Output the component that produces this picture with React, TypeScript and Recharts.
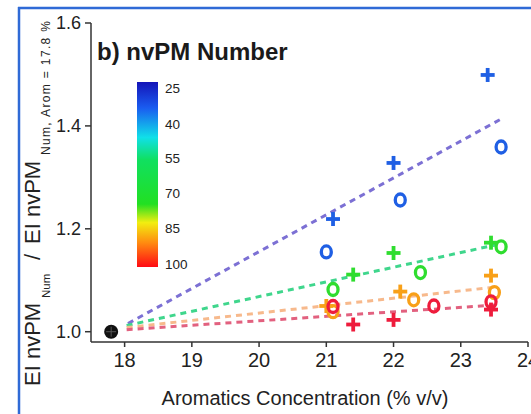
import React from 'react';
import { ComposedChart, Scatter, XAxis, YAxis } from 'recharts';

// ---- tick values ----
const xMajorTicks = [18, 19, 20, 21, 22, 23, 24];
const xMinorTicks = [17.6, 17.8, 18, 18.2, 18.4, 18.6, 18.8, 19, 19.2, 19.4, 19.6, 19.8, 20, 20.2, 20.4, 20.6, 20.8, 21, 21.2, 21.4, 21.6, 21.8, 22, 22.2, 22.4, 22.6, 22.8, 23, 23.2, 23.4, 23.6, 23.8];
const yMajorTicks = [1.0, 1.2, 1.4, 1.6];
const yMinorTicks = [1.0, 1.05, 1.1, 1.15, 1.2, 1.25, 1.3, 1.35, 1.4, 1.45, 1.5, 1.55];
const colorbarLabels = ['25', '40', '55', '70', '85', '100'];

// ---- data (Aromatics %, normalized EI) ----
const baseX = [17.8];
const baseY = [1.0];

const bluePlusX = [21.1, 22.0, 23.4];
const bluePlusY = [1.219, 1.328, 1.499];
const blueCircleX = [21.0, 22.1, 23.6];
const blueCircleY = [1.155, 1.256, 1.359];

const greenPlusX = [21.4, 22.0, 23.45];
const greenPlusY = [1.111, 1.153, 1.173];
const greenCircleX = [21.1, 22.4, 23.6];
const greenCircleY = [1.082, 1.115, 1.165];

const orangePlusX = [21.0, 22.1, 23.45];
const orangePlusY = [1.05, 1.078, 1.109];
const orangeCircleX = [21.1, 22.3, 23.5];
const orangeCircleY = [1.039, 1.062, 1.076];

const redPlusX = [21.4, 22.0, 23.45];
const redPlusY = [1.014, 1.023, 1.043];
const redCircleX = [21.1, 22.6, 23.45];
const redCircleY = [1.049, 1.05, 1.058];

// dashed fit lines (start / end)
const blueFitX = [18.05, 23.58];
const blueFitY = [1.016, 1.412];
const greenFitX = [18.03, 23.53];
const greenFitY = [1.012, 1.169];
const orangeFitX = [18.03, 23.53];
const orangeFitY = [1.008, 1.087];
const redFitX = [18.03, 23.53];
const redFitY = [1.004, 1.052];

const pts = (xs: number[], ys: number[]) => xs.map((x, i) => ({ x, y: ys[i] }));

const FONT = '"Liberation Sans", Arial, Helvetica, sans-serif';

const C_BLUE = '#1f5fe4';
const C_GREEN = '#2fdd2f';
const C_ORANGE = '#f8a018';
const C_RED = '#ee1c3c';

const plusShape = (color: string) => (p: any) => {
  const { cx, cy } = p;
  if (cx == null || cy == null) return <g />;
  const s = 7;
  return (
    <g>
      <line x1={cx - s} y1={cy} x2={cx + s} y2={cy} stroke={color} strokeWidth={3.8} />
      <line x1={cx} y1={cy - s} x2={cx} y2={cy + s} stroke={color} strokeWidth={3.8} />
    </g>
  );
};

const circleShape = (color: string) => (p: any) => {
  const { cx, cy } = p;
  if (cx == null || cy == null) return <g />;
  return <ellipse cx={cx} cy={cy} rx={5} ry={6} fill="none" stroke={color} strokeWidth={3.3} />;
};

const baseShape = (p: any) => {
  const { cx, cy } = p;
  if (cx == null || cy == null) return <g />;
  return (
    <g>
      <circle cx={cx} cy={cy} r={7} fill="#111" />
      <line x1={cx - 5} y1={cy} x2={cx + 5} y2={cy} stroke="#555" strokeWidth={1} />
      <line x1={cx} y1={cy - 5} x2={cx} y2={cy + 5} stroke="#555" strokeWidth={1} />
    </g>
  );
};

const noShape = () => <g />;

const fitLine = (color: string) => ({ stroke: color, strokeWidth: 3, strokeDasharray: '6 5' });

const RotText = ({ x, y, size, len, children }: any) => (
  <text
    transform={`translate(${x},${y}) rotate(-90)`}
    fontSize={size}
    fontFamily={FONT}
    fill="#222"
    textLength={len}
    lengthAdjust={len ? 'spacing' : undefined}
  >
    {children}
  </text>
);

const cbY = [88, 124, 158, 193, 228, 264];

export default function App() {
  return (
    <div style={{ position: 'absolute', left: 0, top: 0, width: 531, height: 414, background: '#fff', overflow: 'hidden' }}>
      <ComposedChart
        width={531}
        height={414}
        margin={{ top: 23, right: 3, bottom: 0, left: 0 }}
        style={{ position: 'absolute', left: 0, top: 0 }}
      >
        <XAxis
          dataKey="x"
          type="number"
          domain={[17.5, 24]}
          allowDataOverflow
          ticks={xMajorTicks}
          interval={0}
          tickSize={5}
          tickMargin={6}
          stroke="#333"
          strokeWidth={1.5}
          tick={{ fill: '#222', fontSize: 20, fontFamily: FONT }}
          height={72}
        />
        <XAxis
          xAxisId="xm"
          type="number"
          domain={[17.5, 24]}
          allowDataOverflow
          ticks={xMinorTicks}
          interval={0}
          orientation="bottom"
          mirror
          axisLine={false}
          tickSize={4}
          tickFormatter={() => ''}
          stroke="#444"
          height={0}
        />
        <XAxis
          xAxisId="xt"
          type="number"
          domain={[17.5, 24]}
          allowDataOverflow
          ticks={xMinorTicks}
          interval={0}
          orientation="top"
          mirror
          tickSize={4}
          tickFormatter={() => ''}
          stroke="#333"
          strokeWidth={1.2}
          height={0}
        />
        <YAxis
          dataKey="y"
          type="number"
          domain={[0.98, 1.6]}
          allowDataOverflow
          ticks={yMajorTicks}
          interval={0}
          tickSize={6}
          tickMargin={4}
          stroke="#333"
          strokeWidth={1.5}
          tickFormatter={(v: number) => v.toFixed(1)}
          tick={{ fill: '#222', fontSize: 18, fontFamily: FONT }}
          width={91}
        />
        <YAxis
          yAxisId="ym"
          type="number"
          domain={[0.98, 1.6]}
          allowDataOverflow
          ticks={yMinorTicks}
          interval={0}
          orientation="left"
          mirror
          axisLine={false}
          tickSize={4}
          tickFormatter={() => ''}
          stroke="#444"
          width={0}
        />
        <YAxis
          yAxisId="yr"
          type="number"
          domain={[0.98, 1.6]}
          allowDataOverflow
          ticks={yMinorTicks}
          interval={0}
          orientation="right"
          mirror
          tickSize={4}
          tickFormatter={() => ''}
          stroke="#333"
          strokeWidth={1.2}
          width={0}
        />

        <Scatter data={pts(blueFitX, blueFitY)} line={fitLine('#7c70d4')} shape={noShape} isAnimationActive={false} />
        <Scatter data={pts(greenFitX, greenFitY)} line={fitLine('#3fd68c')} shape={noShape} isAnimationActive={false} />
        <Scatter data={pts(orangeFitX, orangeFitY)} line={fitLine('#f7b98c')} shape={noShape} isAnimationActive={false} />
        <Scatter data={pts(redFitX, redFitY)} line={fitLine('#e2617f')} shape={noShape} isAnimationActive={false} />

        <Scatter data={pts(bluePlusX, bluePlusY)} shape={plusShape(C_BLUE)} isAnimationActive={false} />
        <Scatter data={pts(blueCircleX, blueCircleY)} shape={circleShape(C_BLUE)} isAnimationActive={false} />
        <Scatter data={pts(greenPlusX, greenPlusY)} shape={plusShape(C_GREEN)} isAnimationActive={false} />
        <Scatter data={pts(greenCircleX, greenCircleY)} shape={circleShape(C_GREEN)} isAnimationActive={false} />
        <Scatter data={pts(orangePlusX, orangePlusY)} shape={plusShape(C_ORANGE)} isAnimationActive={false} />
        <Scatter data={pts(orangeCircleX, orangeCircleY)} shape={circleShape(C_ORANGE)} isAnimationActive={false} />
        <Scatter data={pts(redPlusX, redPlusY)} shape={plusShape(C_RED)} isAnimationActive={false} />
        <Scatter data={pts(redCircleX, redCircleY)} shape={circleShape(C_RED)} isAnimationActive={false} />
        <Scatter data={pts(baseX, baseY)} shape={baseShape} isAnimationActive={false} />
      </ComposedChart>

      <svg width={531} height={414} style={{ position: 'absolute', left: 0, top: 0, pointerEvents: 'none' }}>
        <defs>
          <linearGradient id="cbar" x1="0" y1="0" x2="0" y2="1">
            <stop offset="0" stopColor="#1414b8" />
            <stop offset="0.14" stopColor="#1a5cf0" />
            <stop offset="0.3" stopColor="#10e0e8" />
            <stop offset="0.42" stopColor="#10e060" />
            <stop offset="0.66" stopColor="#22e022" />
            <stop offset="0.76" stopColor="#f2ee10" />
            <stop offset="0.87" stopColor="#ff8a10" />
            <stop offset="1" stopColor="#ff0a14" />
          </linearGradient>
        </defs>
        {/* frame */}
        <line x1={18} y1={8} x2={531} y2={8} stroke="#2f6ad6" strokeWidth={2.5} />
        <line x1={19} y1={7} x2={19} y2={414} stroke="#2f6ad6" strokeWidth={2.5} />

        {/* title */}
        <text x={97} y={60} fontSize={24} fontWeight="bold" fontFamily={FONT} fill="#1a1a1a">
          b) nvPM Number
        </text>

        {/* colour bar */}
        <rect x={137} y={82} width={21} height={185} fill="url(#cbar)" />
        {colorbarLabels.map((t, i) => (
          <text key={t} x={165} y={cbY[i] + 5} fontSize={13.5} fontFamily={FONT} fill="#222">
            {t}
          </text>
        ))}

        {/* y-axis title */}
        <RotText x={40} y={386} size={22}>EI nvPM</RotText>
        <RotText x={50} y={298} size={11.5}>Num</RotText>
        <RotText x={40} y={260} size={22}>/</RotText>
        <RotText x={40} y={244} size={22}>EI nvPM</RotText>
        <RotText x={50} y={155} size={12} len={134}>Num, Arom = 17.8 %</RotText>

        {/* x-axis title */}
        <text x={305} y={405} textAnchor="middle" fontSize={20} fontFamily={FONT} fill="#222">
          Aromatics Concentration (% v/v)
        </text>
      </svg>
    </div>
  );
}
